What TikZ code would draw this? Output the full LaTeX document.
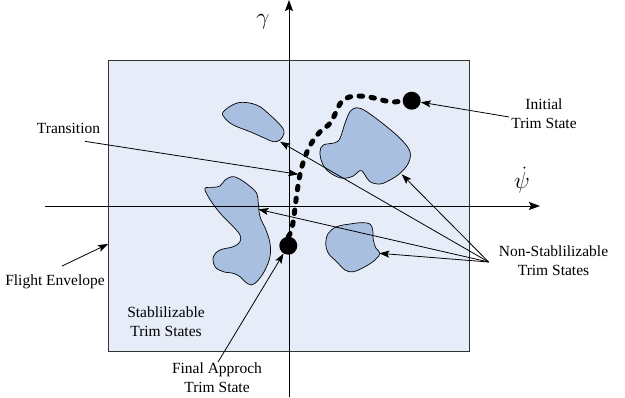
\documentclass[tikz,border=0pt]{standalone}
\usepackage{fontspec}
\setmainfont{Liberation Serif}
\usetikzlibrary{arrows.meta}
\definecolor{envfill}{RGB}{231,237,248}
\definecolor{blobfill}{RGB}{169,191,224}
\tikzset{
  label/.style={font=\fontsize{15.5}{19}\selectfont, inner sep=2pt, align=center},
  mathlabel/.style={font=\fontsize{17}{20}\selectfont, inner sep=0pt},
  pointer/.style={draw=black, line width=0.8pt, -{Stealth[length=10pt,width=7pt,inset=2pt]}},
  axis/.style={draw=black, line width=0.9pt, -{Stealth[length=11pt,width=8pt,inset=2pt]}},
  region/.style={draw=black, line width=0.7pt, fill=blobfill},
  envelope/.style={draw=black!80, line width=0.8pt, fill=envfill},
  trimdot/.style={circle, fill=black, inner sep=0pt, minimum size=18pt},
  path/.style={draw=black, line width=5pt, line cap=round, dash pattern=on 3.5pt off 8.5pt}
}
\begin{document}
\begin{tikzpicture}[x=1pt, y=-1pt]
\useasboundingbox (0,0) rectangle (625,397);

% flight envelope
\draw[envelope] (108,60) rectangle (469,351);
\coordinate (envedge) at (108,244);

% non-stabilizable trim state regions
\draw[region] plot[smooth cycle, tension=0.6] coordinates {
  (223.3,111.7) (238.3,102.7) (256.7,105) (270,115) (281.7,126.7) (284,133.3)
  (280,140) (273.3,141.7) (265,138.3) (250,131.7) (233.3,125) (225,118.3)};
\draw[region] plot[smooth cycle, tension=0.6] coordinates {
  (320,151.7) (323.3,145) (335,142.7) (340,138.3) (345,123.3) (350,111.7)
  (356.7,107.7) (366.7,111.7) (386.7,126.7) (401.7,140) (410,151.7) (408.3,163.3)
  (400,173.3) (390,180) (380,184) (370,181.7) (365,175) (361.7,170.7)
  (358.3,171.7) (353.3,176) (345,178.3) (336.7,176.7) (326.7,170) (321.7,161.7)};
\draw[region] plot[smooth cycle, tension=0.6] coordinates {
  (205,188.3) (213.3,187.3) (220,186) (225,180) (231.7,176.7) (238.3,178.3)
  (248.3,185) (256.7,193.3) (258.3,203.3) (260,216.7) (266,230) (270,243.3)
  (270,256.7) (265,270) (258.3,280) (251.7,285) (245,281.7) (240,276.7)
  (233.3,273.3) (223.3,271.7) (215,266.7) (213.3,256.7) (220,250) (233.3,246.7)
  (240,241.7) (240,235) (233.3,226.7) (223.3,216.7) (215,206.7) (208.3,196.7)};
\draw[region] plot[smooth cycle, tension=0.6] coordinates {
  (325.7,243.3) (328.3,233.3) (336.7,226.7) (350,224) (361.7,222.7) (370,224)
  (372.7,230) (373.3,240) (376,248.3) (380,253.3) (375,260) (365,266.7)
  (353.3,271.7) (345,270) (336.7,261.7) (328.3,253.3)};

% arrow targets on the regions
\coordinate (tipA) at (280,141.7);
\coordinate (tipB) at (401.7,174.3);
\coordinate (tipC) at (258.3,209.3);
\coordinate (tipD) at (379.3,253.3);

% axes
\coordinate (xstart) at (45,206);
\coordinate (xend) at (540,206);
\coordinate (ystart) at (289,397);
\coordinate (yend) at (289,0);
\draw[axis] (xstart) -- (xend);
\draw[axis] (ystart) -- (yend);
\node[mathlabel] (ylab) at (263,22) {\scalebox{1.35}{$\gamma$}};
\node[mathlabel] (xlab) at (522,180) {\scalebox{1.35}{$\dot{\psi}$}};

% trim states and the transition between them
\node[trimdot] (final) at (288.3,245.7) {};
\node[trimdot] (initial) at (411.7,100.7) {};
\draw[path] (final.north) .. controls (293,232) and (294,214) .. (296,200)
  .. controls (298,185) and (300,170) .. (305,157)
  .. controls (310,143) and (318,132) .. (326,127)
  .. controls (334,122) and (336,108) .. (342,101)
  .. controls (350,93) and (368,96) .. (382,100)
  .. controls (392,103) and (398,102) .. (initial.west);
\coordinate (transtip) at (298.3,174.3);

% labels
\node[label, anchor=base] (trans) at (68.5,133) {Transition};
\node[label] (init) at (544,114) {Initial\\Trim State};
\node[label] (nonstab) at (553.5,261) {Non-Stablilizable\\Trim States};
\node[label, anchor=base] (fenv) at (55,285) {Flight Envelope};
\node[label] (stab) at (166,322) {Stablilizable\\Trim States};
\node[label] (fin) at (217,377.7) {Final Approch\\Trim State};

% pointers
\draw[pointer] ([xshift=16.5pt,yshift=-6pt]trans.south) -- (transtip);
\draw[pointer] ([yshift=-3pt]init.west) -- (initial);
\draw[pointer] ([xshift=7pt,yshift=6pt]fenv.north) -- (envedge);
\draw[pointer] ([xshift=1pt,yshift=-1.5pt]fin.north) -- (final);
\foreach \t in {tipA,tipB,tipC,tipD}
  \draw[pointer] ([xshift=-8pt,yshift=-1pt]nonstab.west) -- (\t);
\end{tikzpicture}
\end{document}
